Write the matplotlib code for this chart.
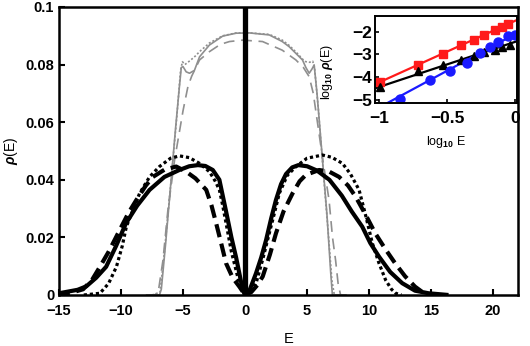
import matplotlib
matplotlib.use("Agg")
import matplotlib.pyplot as plt

plt.rcParams["font.family"] = ["Liberation Sans", "DejaVu Sans"]
plt.rcParams["font.weight"] = "bold"
plt.rcParams["mathtext.fontset"] = "custom"
plt.rcParams["mathtext.rm"] = "Liberation Sans:bold"
plt.rcParams["mathtext.it"] = "Liberation Sans:italic:bold"

# main panel curves (E, rho)
solid_e = [-15.0, -13.5, -12.8, -12.0, -11.2, -10.4, -9.6, -8.7, -7.7, -6.5, -5.3, -4.5, -3.8, -3.2,
           -2.6, -2.07, -1.53, -1.1, -0.72, -0.46, -0.2, 0.0, 0.35, 0.88, 1.3, 1.69, 2.1, 2.49, 2.9,
           3.3, 3.8, 4.3, 5.0, 5.8, 6.8, 7.8, 8.6, 9.45, 10.1, 10.8, 11.7, 12.67, 13.7, 14.8, 16.4]
solid_r = [0.0006, 0.0018, 0.0030, 0.0060, 0.0098, 0.0170, 0.0249, 0.0310, 0.0365, 0.0410, 0.0434,
           0.0447, 0.0451, 0.0448, 0.0434, 0.0400, 0.0290, 0.0200, 0.0130, 0.0075, 0.0020, 0.0,
           0.0015, 0.0075, 0.0130, 0.0190, 0.0265, 0.0330, 0.0385, 0.0420, 0.0443, 0.0451, 0.0447,
           0.0432, 0.0400, 0.0345, 0.0290, 0.0237, 0.0180, 0.0133, 0.0080, 0.0041, 0.0015, 0.0006, 0.0]

dashed_e = [-15.2, -14.0, -13.05, -12.3, -11.7, -11.0, -10.1, -9.4, -8.76, -8.0, -7.43, -6.5, -5.55,
            -4.74, -4.0, -3.13, -2.7, -2.33, -1.9, -1.53, -1.0, -0.46, 0.0, 0.5, 1.0, 1.42, 2.0, 2.49,
            3.1, 3.83, 4.4, 4.9, 5.97, 6.8, 7.58, 8.3, 8.92, 9.7, 10.5, 11.3, 12.1, 12.9, 13.7, 14.3,
            14.8, 15.5]
dashed_r = [0.0003, 0.0008, 0.0020, 0.0055, 0.0098, 0.0150, 0.0226, 0.0285, 0.0330, 0.0380, 0.0410,
            0.0435, 0.0446, 0.0428, 0.0405, 0.0365, 0.0310, 0.0249, 0.0175, 0.0110, 0.0060, 0.0029,
            0.0, 0.0010, 0.0035, 0.0064, 0.0140, 0.0214, 0.0290, 0.0353, 0.0395, 0.0417, 0.0434,
            0.0428, 0.0410, 0.0380, 0.0341, 0.0280, 0.0214, 0.0160, 0.0110, 0.0065, 0.0029, 0.0010,
            0.0002, 0.0]

dotted_e = [-13.0, -11.7, -11.0, -10.37, -9.9, -9.57, -9.0, -8.5, -7.7, -6.9, -6.0, -5.28, -4.5,
            -3.67, -2.87, -2.4, -2.07, -1.8, -1.53, -1.1, -0.46, 0.0, 0.4, 0.88, 1.4, 1.95, 2.4, 2.76,
            3.4, 4.1, 5.0, 6.24, 7.0, 7.85, 8.5, 9.19, 9.7, 10.26, 10.8, 11.33, 11.8, 12.14, 12.6]
dotted_r = [0.0, 0.0006, 0.0040, 0.0098, 0.0170, 0.0237, 0.0300, 0.0353, 0.0410, 0.0446, 0.0475,
            0.0483, 0.0477, 0.0457, 0.0428, 0.0395, 0.0365, 0.0310, 0.0249, 0.0150, 0.0040, 0.0,
            0.0010, 0.0040, 0.0120, 0.0214, 0.0290, 0.0353, 0.0415, 0.0446, 0.0475, 0.0486, 0.0478,
            0.0457, 0.0420, 0.0365, 0.0280, 0.0180, 0.0110, 0.0052, 0.0020, 0.0006, 0.0]

gsolid_e = [-7.6, -6.9, -6.75, -6.4, -6.0, -5.6, -5.3, -5.14, -5.0, -4.75, -4.48, -4.08, -3.67, -2.87,
            -1.8, -0.72, 0.35, 1.95, 3.0, 3.56, 4.63, 4.9, 5.17, 5.4, 5.57, 5.8, 6.24, 6.6, 6.9, 7.04, 7.6]
gsolid_r = [0.0, 0.0, 0.002, 0.018, 0.038, 0.058, 0.072, 0.0790, 0.0793, 0.0775, 0.0770, 0.0780,
            0.0827, 0.0868, 0.0899, 0.0909, 0.0910, 0.0903, 0.0880, 0.0862, 0.0816, 0.0790, 0.0770,
            0.0785, 0.0799, 0.070, 0.047, 0.028, 0.008, 0.0, 0.0]

gdotted_e = [-7.5, -6.85, -6.5, -6.0, -5.5, -5.2, -5.05, -4.85, -4.7, -4.4, -4.0, -3.67, -2.87, -1.8,
             -0.72, 0.35, 1.95, 3.0, 3.6, 4.3, 4.6, 4.9, 5.2, 5.45, 5.6, 5.9, 6.3, 6.7, 7.0, 7.2]
gdotted_r = [0.0, 0.001, 0.015, 0.038, 0.062, 0.078, 0.0810, 0.0800, 0.0805, 0.0815, 0.0830, 0.0845,
             0.0875, 0.0900, 0.0910, 0.0910, 0.0905, 0.0885, 0.0865, 0.0835, 0.0820, 0.0810, 0.0808,
             0.0812, 0.0790, 0.065, 0.043, 0.022, 0.005, 0.0]

gdashed_e = [-8.0, -7.3, -7.0, -6.62, -6.22, -5.68, -5.0, -4.6, -4.3, -3.67, -2.87, -2.0, -1.26, -0.19,
             1.41, 3.0, 4.1, 4.7, 5.17, 5.5, 5.9, 6.3, 6.77, 7.05, 7.3, 7.5, 7.7, 8.2]
gdashed_r = [0.0, 0.0, 0.001, 0.012, 0.0295, 0.0469, 0.0640, 0.0725, 0.0760, 0.0816, 0.0845, 0.0870,
             0.0880, 0.0885, 0.0880, 0.0850, 0.0816, 0.0790, 0.0758, 0.0700, 0.058, 0.046, 0.033,
             0.020, 0.012, 0.004, 0.0, 0.0]

# inset: log10 E vs log10 rho(E)
red_x = [-0.993, -0.711, -0.532, -0.397, -0.301, -0.226, -0.147, -0.098, -0.049]
red_y = [-4.23, -3.48, -2.97, -2.60, -2.38, -2.16, -1.91, -1.77, -1.65]
black_x = [-0.993, -0.711, -0.530, -0.400, -0.301, -0.226, -0.147, -0.098, -0.039]
black_y = [-4.44, -3.75, -3.45, -3.26, -3.09, -2.91, -2.79, -2.67, -2.60]
blue_x = [-0.846, -0.625, -0.478, -0.355, -0.257, -0.184, -0.123, -0.049, 0.0]
blue_y = [-4.97, -4.11, -3.72, -3.38, -2.94, -2.65, -2.43, -2.20, -2.13]
red_fit_x, red_fit_y = [-1.03, 0.012], [-4.32, -1.48]
black_fit_x, black_fit_y = [-1.03, 0.012], [-4.50, -2.42]
blue_fit_x, blue_fit_y = [-1.0, 0.012], [-5.35, -2.06]

fig = plt.figure(figsize=(5.30, 3.46), dpi=100)
ax = fig.add_axes([0.1113, 0.1474, 0.866, 0.8324])

gray = "#8f8f8f"
ax.plot(gsolid_e, gsolid_r, color=gray, lw=1.2)
ax.plot(gdotted_e, gdotted_r, color=gray, lw=1.2, dashes=[1.2, 1.2])
ax.plot(gdashed_e, gdashed_r, color=gray, lw=1.2, dashes=[6.5, 4])
ax.plot(solid_e, solid_r, color="black", lw=3.0, solid_capstyle="butt")
ax.plot(dashed_e, dashed_r, color="black", lw=3.0, dashes=[3.2, 1.6])
ax.plot(dotted_e, dotted_r, color="black", lw=2.3, dashes=[1.0, 0.9])
ax.plot([0, 0], [0, 0.1], color="black", lw=3.8)

ax.set_xlim(-15, 22)
ax.set_ylim(0, 0.1)
ax.set_xticks([-15, -10, -5, 0, 5, 10, 15, 20])
ax.set_yticks([0, 0.02, 0.04, 0.06, 0.08, 0.1])
ax.set_yticklabels(["0", "0.02", "0.04", "0.06", "0.08", "0.1"])
ax.tick_params(direction="in", length=4, width=1.5, labelsize=10.5, pad=3.5)
ax.tick_params(axis="x", pad=6.5)
for s in ax.spines.values():
    s.set_linewidth(1.8)
ax.set_xlabel("E", fontsize=10.5, labelpad=10)
ax.set_ylabel(r"$\rho$(E)", fontsize=10, labelpad=4)

ins = fig.add_axes([0.7075, 0.7023, 0.2674, 0.2514])
ins.plot(red_fit_x, red_fit_y, color="#ff1a1a", lw=1.6)
ins.plot(black_fit_x, black_fit_y, color="black", lw=1.6)
ins.plot(blue_fit_x, blue_fit_y, color="#1a1aff", lw=1.6)
ins.plot(red_x, red_y, "s", color="#ff1a1a", ms=5.5)
ins.plot(black_x, black_y, "^", color="black", ms=6)
ins.plot(blue_x, blue_y, "o", color="#1a1aff", ms=6.5)
ins.set_xlim(-1.03, 0.012)
ins.set_ylim(-5.15, -1.3)
ins.set_xticks([-1, -0.5, 0])
ins.set_xticklabels(["\u22121", "\u22120.5", "0"])
ins.set_yticks([-5, -4, -3, -2])
ins.tick_params(direction="in", length=3, width=1.2, labelsize=12.5)
ins.tick_params(axis="x", pad=6)
ins.tick_params(axis="y", pad=2)
for s in ins.spines.values():
    s.set_linewidth(1.4)
ins.set_xlabel(r"log$_{10}$ E", fontsize=9)
ins.xaxis.set_label_coords(0.5, -0.36)
ins.set_ylabel(r"log$_{10}$ $\rho$(E)", fontsize=9)
ins.yaxis.set_label_coords(-0.28, 0.35)

fig.savefig("out.png", dpi=100)
